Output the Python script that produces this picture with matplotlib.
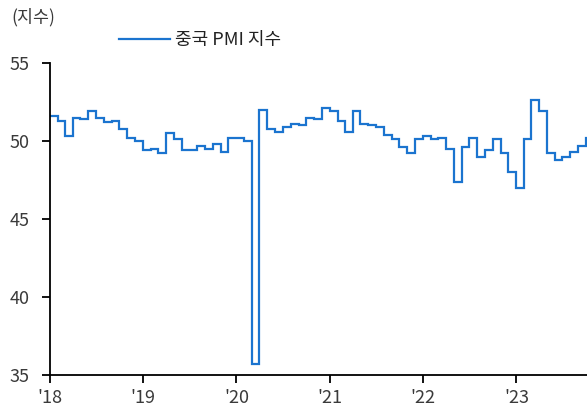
import matplotlib
matplotlib.use("Agg")
import matplotlib.pyplot as plt
import pandas as pd

plt.rcParams['font.family'] = ['Noto Sans CJK KR', 'DejaVu Sans']

# China official manufacturing PMI, monthly (Dec 2017 - Sep 2023), dated at month end
start_month = "2017-12"
pmi = [
    51.6,
    51.3, 50.3, 51.5, 51.4, 51.9, 51.5, 51.2, 51.3, 50.8, 50.2, 50.0, 49.4,
    49.5, 49.2, 50.5, 50.1, 49.4, 49.4, 49.7, 49.5, 49.8, 49.3, 50.2, 50.2,
    50.0, 35.7, 52.0, 50.8, 50.6, 50.9, 51.1, 51.0, 51.5, 51.4, 52.1, 51.9,
    51.3, 50.6, 51.9, 51.1, 51.0, 50.9, 50.4, 50.1, 49.6, 49.2, 50.1, 50.3,
    50.1, 50.2, 49.5, 47.4, 49.6, 50.2, 49.0, 49.4, 50.1, 49.2, 48.0, 47.0,
    50.1, 52.6, 51.9, 49.2, 48.8, 49.0, 49.3, 49.7, 50.2,
]
dates = pd.date_range(start_month, periods=len(pmi), freq="ME")

year_ticks = ["2018", "2019", "2020", "2021", "2022", "2023"]
year_labels = ["'18", "'19", "'20", "'21", "'22", "'23"]
y_ticks = [35, 40, 45, 50, 55]

series_name = "중국 PMI 지수"
unit_label = "(지수)"
line_color = "#1b74cf"
text_color = "#3a3a3a"

fig = plt.figure(figsize=(5.87, 4.07), dpi=100)
ax = fig.add_axes([50 / 587, 32 / 407, 537 / 587, 312 / 407])

ax.plot(dates, pmi, drawstyle="steps-post", color=line_color, lw=1.6,
        label=series_name, solid_joinstyle="miter")

ax.set_xlim(pd.Timestamp("2018-01-01"), pd.Timestamp("2023-10-04"))
ax.set_ylim(35, 55)
ax.set_yticks(y_ticks)
ax.set_xticks([pd.Timestamp(y + "-01-01") for y in year_ticks])
ax.set_xticklabels(year_labels)

for side in ("top", "right"):
    ax.spines[side].set_visible(False)
for side in ("left", "bottom"):
    ax.spines[side].set_linewidth(1.3)
    ax.spines[side].set_color("black")

ax.tick_params(axis="both", direction="out", length=6, width=1.3,
               color="black", labelsize=13, labelcolor=text_color)
ax.tick_params(axis="y", pad=9)
ax.tick_params(axis="x", pad=4)

fig.text(11 / 587, 1 - 17 / 407, unit_label, fontsize=12.5, color=text_color,
         va="center", ha="left")

ax.legend(loc="center left", bbox_to_anchor=(119 / 587, 1 - 40 / 407),
          bbox_transform=fig.transFigure, frameon=False, fontsize=13,
          handlelength=2.8, handletextpad=0.3, labelcolor="#222222",
          borderaxespad=0, borderpad=0)

fig.savefig("out.png", dpi=100)
